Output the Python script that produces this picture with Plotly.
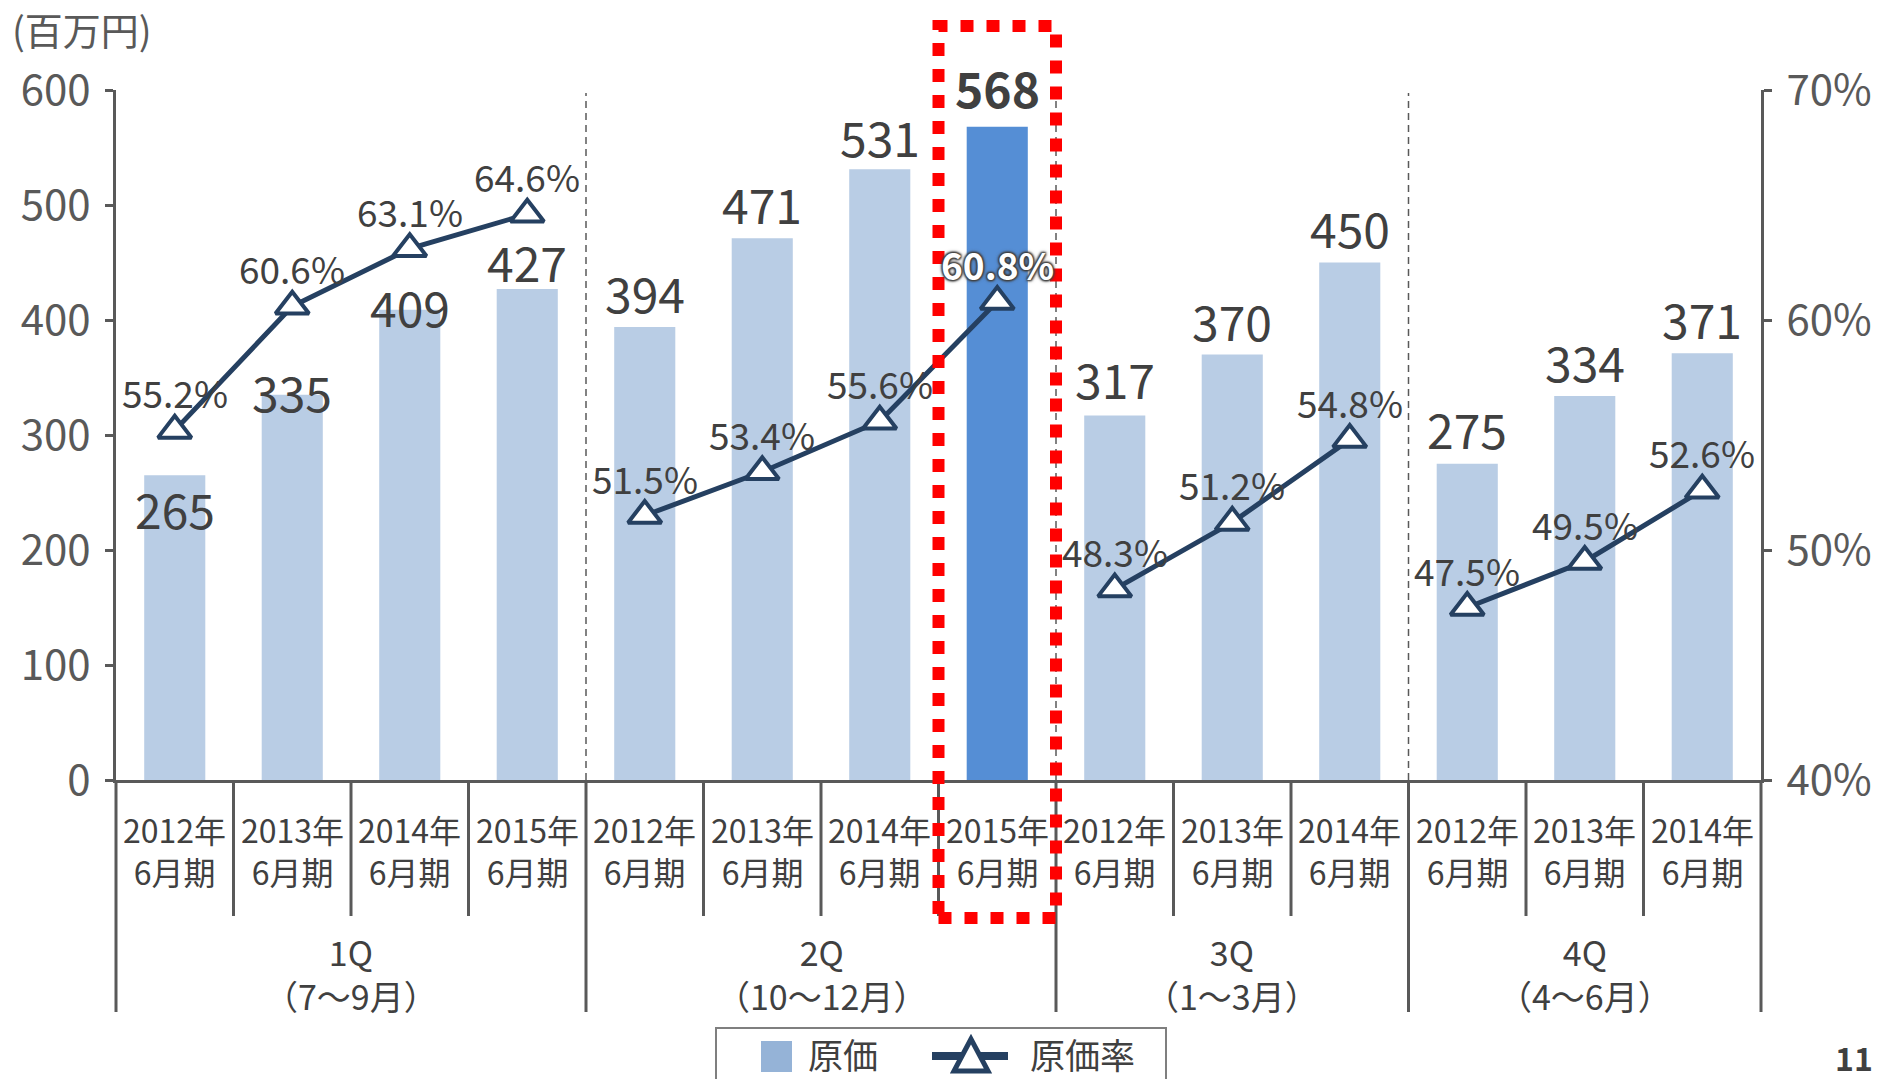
import plotly.graph_objects as go

# ---------------- data ----------------
years = ["2012年", "2013年", "2014年", "2015年",
         "2012年", "2013年", "2014年", "2015年",
         "2012年", "2013年", "2014年",
         "2012年", "2013年", "2014年"]
period_label = "6月期"
quarters = ["1Q", "2Q", "3Q", "4Q"]
quarter_months = ["（7～9月）", "（10～12月）", "（1～3月）", "（4～6月）"]
quarter_sizes = [4, 4, 3, 3]
cost = [265, 335, 409, 427, 394, 471, 531, 568, 317, 370, 450, 275, 334, 371]
cost_rate = [55.2, 60.6, 63.1, 64.6, 51.5, 53.4, 55.6, 60.8, 48.3, 51.2, 54.8, 47.5, 49.5, 52.6]
highlight_index = 7
left_ticks = [0, 100, 200, 300, 400, 500, 600]
right_ticks = [40, 50, 60, 70]
unit_label = "(百万円)"
legend_bar = "原価"
legend_line = "原価率"
page_number = "11"

# label offsets (px, positive = up) for the bar value labels
bar_label_shift = [-33, 4, 4, 28, 35, 35, 33, 40, 37, 35, 36, 36, 35, 35]

# ---------------- style ----------------
FONT = "Noto Sans CJK JP"
AXIS = "#595959"
TEXT = "#404040"
BAR = "#b9cde5"
BAR_HI = "#558ed5"
SWATCH = "#95b3d7"
NAVY = "#254061"
W, H = 1877, 1079
L, R, T, B = 116, 1761, 90, 780

def px(X):
    return (X - L) / (R - L)

def py(Y):
    return (B - Y) / (B - T)

n = len(cost)
xs = list(range(n))
colors = [BAR_HI if i == highlight_index else BAR for i in xs]

fig = go.Figure()
fig.add_trace(go.Bar(x=xs, y=cost, marker=dict(color=colors, line=dict(width=0)),
                     width=0.52, name=legend_bar, showlegend=False, hoverinfo="skip"))

start = 0
for size in quarter_sizes:
    idx = list(range(start, start + size))
    fig.add_trace(go.Scatter(
        x=idx, y=[cost_rate[i] for i in idx], yaxis="y2", mode="lines+markers",
        line=dict(color=NAVY, width=5),
        marker=dict(symbol="triangle-up", size=29, color="white",
                    line=dict(color=NAVY, width=4)),
        name=legend_line, showlegend=False, hoverinfo="skip"))
    start += size

annotations = []
# bar value labels
for i, v in enumerate(cost):
    hi = i == highlight_index
    annotations.append(dict(
        x=i, y=v, xref="x", yref="y", text=f"<b>{v}</b>" if hi else str(v),
        showarrow=False, yshift=bar_label_shift[i], yanchor="middle",
        font=dict(family=FONT, size=48, color=TEXT)))
# rate labels
halo = ("1px 1px 2px #404040, -1px -1px 2px #404040, 1px -1px 2px #404040, "
        "-1px 1px 2px #404040, 0px 0px 4px #404040")
for i, r in enumerate(cost_rate):
    hi = i == highlight_index
    annotations.append(dict(
        x=i, y=r, xref="x", yref="y2",
        text=f"<b>{r:.1f}%</b>" if hi else f"{r:.1f}%",
        showarrow=False, yshift=38, yanchor="middle",
        font=dict(family=FONT, size=37, color="white" if hi else TEXT,
                  shadow=halo if hi else "none")))
# category labels
for i, ylab in enumerate(years):
    annotations.append(dict(
        x=i, y=py(850), xref="x", yref="paper", text=f"{ylab}<br>{period_label}",
        showarrow=False, yanchor="middle",
        font=dict(family=FONT, size=32, color=TEXT)))
# quarter labels
start = 0
for q, m, size in zip(quarters, quarter_months, quarter_sizes):
    center = start + (size - 1) / 2
    annotations.append(dict(
        x=center, y=py(973), xref="x", yref="paper", text=f"{q}<br>{m}",
        showarrow=False, yanchor="middle",
        font=dict(family=FONT, size=34, color=TEXT)))
    start += size
# unit label
annotations.append(dict(x=px(10), y=py(29), xref="paper", yref="paper", text=unit_label,
                        showarrow=False, xanchor="left", yanchor="middle",
                        font=dict(family=FONT, size=38, color=AXIS)))
# page number
annotations.append(dict(x=px(1875), y=py(1057), xref="paper", yref="paper", text=f"<b>{page_number}</b>",
                        showarrow=False, xanchor="right", yanchor="middle",
                        font=dict(family=FONT, size=32, color=TEXT)))
# legend texts
annotations.append(dict(x=px(806), y=py(1053), xref="paper", yref="paper", text=legend_bar,
                        showarrow=False, xanchor="left", yanchor="middle",
                        font=dict(family=FONT, size=35, color=TEXT)))
annotations.append(dict(x=px(1028), y=py(1053), xref="paper", yref="paper", text=legend_line,
                        showarrow=False, xanchor="left", yanchor="middle",
                        font=dict(family=FONT, size=35, color=TEXT)))

shapes = []
# separators below the axis
start = 0
group_edges = [0]
for size in quarter_sizes:
    start += size
    group_edges.append(start)
for k in range(n + 1):
    long_line = k in group_edges
    shapes.append(dict(type="line", xref="paper", yref="paper",
                       x0=k / n, x1=k / n, y0=0, y1=py(1012 if long_line else 916),
                       line=dict(color=AXIS, width=3)))
# dashed lines between quarters inside the plot
for k in group_edges[1:-1]:
    shapes.append(dict(type="line", xref="paper", yref="paper",
                       x0=k / n, x1=k / n, y0=0, y1=py(93),
                       line=dict(color=AXIS, width=1.5, dash="7px,5px"), layer="below"))
# red dotted highlight box
shapes.append(dict(type="rect", xref="paper", yref="paper",
                   x0=highlight_index / n, x1=(highlight_index + 1) / n,
                   y0=py(918), y1=py(26),
                   line=dict(color="#ff0000", width=12, dash="13px,13px")))
# legend box
shapes.append(dict(type="rect", xref="paper", yref="paper",
                   x0=px(716), x1=px(1166), y0=py(1100), y1=py(1028),
                   line=dict(color="#7f7f7f", width=2)))
shapes.append(dict(type="rect", xref="paper", yref="paper",
                   x0=px(761), x1=px(792), y0=py(1072), y1=py(1041),
                   fillcolor=SWATCH, line=dict(width=0)))
shapes.append(dict(type="line", xref="paper", yref="paper",
                   x0=px(932), x1=px(1008), y0=py(1056), y1=py(1056),
                   line=dict(color=NAVY, width=8)))
tri = [(971, 1039), (954, 1071), (988, 1071)]
path = "M {} {} L {} {} L {} {} Z".format(px(tri[0][0]), py(tri[0][1]), px(tri[1][0]), py(tri[1][1]),
                                          px(tri[2][0]), py(tri[2][1]))
shapes.append(dict(type="path", xref="paper", yref="paper", path=path,
                   fillcolor="white", line=dict(color=NAVY, width=5)))

axis_common = dict(showline=True, linecolor=AXIS, linewidth=3, showgrid=False, zeroline=False,
                   ticks="outside", ticklen=8, tickwidth=3, tickcolor=AXIS,
                   tickfont=dict(family=FONT, size=42, color=AXIS), ticklabelstandoff=6,
                   fixedrange=True, automargin=False)

fig.update_layout(
    width=W, height=H,
    margin=dict(l=L, r=W - R, t=T, b=H - B, pad=0, autoexpand=False),
    paper_bgcolor="white", plot_bgcolor="white",
    showlegend=False,
    xaxis=dict(range=[-0.5, n - 0.5], showticklabels=False, ticks="", showline=True,
               linecolor=AXIS, linewidth=3, showgrid=False, zeroline=False, fixedrange=True,
               automargin=False),
    yaxis=dict(range=[0, 600], tickvals=left_ticks, ticktext=[str(t) for t in left_ticks], **axis_common),
    yaxis2=dict(range=[40, 70], overlaying="y", side="right", tickvals=right_ticks,
                ticktext=[f"{t}%" for t in right_ticks], **axis_common),
    annotations=annotations,
    shapes=shapes,
    font=dict(family=FONT),
)

fig.write_html("out.html", config={"displayModeBar": False},
               post_script="document.body.style.margin='0';document.body.style.overflow='hidden';")
